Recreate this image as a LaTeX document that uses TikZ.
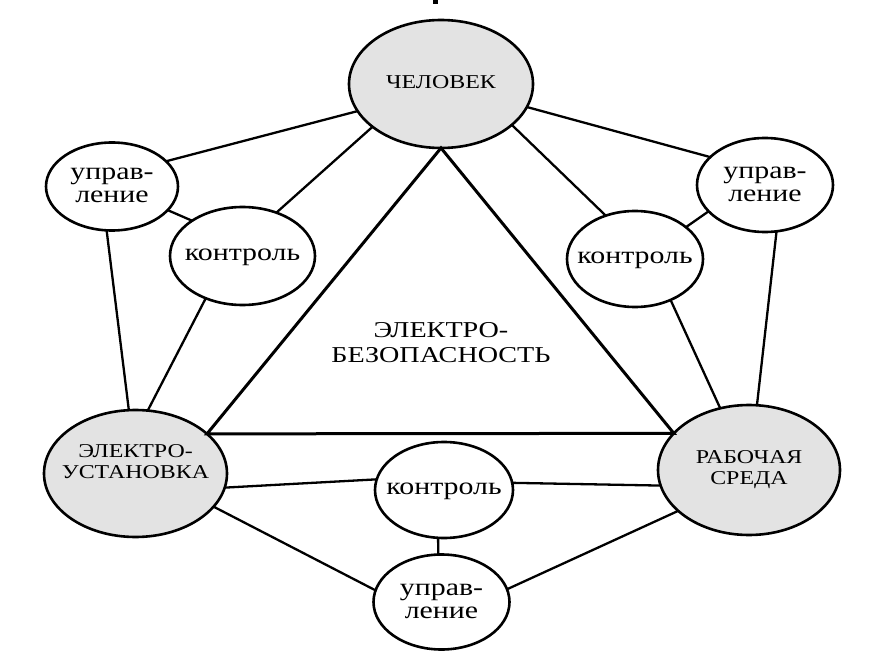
\documentclass[tikz,border=0pt]{standalone}
\usepackage{fontspec}
\setmainfont{Liberation Serif}
\usepackage{graphicx}
\usetikzlibrary{shapes.geometric}
\definecolor{fillg}{RGB}{227,227,227}
\newcommand\capT[1]{\makebox[0pt]{\scalebox{1.22}[1]{\fontsize{19.6}{21}\selectfont\begin{tabular}{@{}c@{}}#1\end{tabular}}}}
\newcommand\lowT[1]{\makebox[0pt]{\scalebox{1.22}[1]{\fontsize{24.5}{23}\selectfont\begin{tabular}{@{}c@{}}#1\end{tabular}}}}
\newcommand\midT[1]{\makebox[0pt]{\scalebox{1.24}[1]{\fontsize{22.7}{25}\selectfont\begin{tabular}{@{}c@{}}#1\end{tabular}}}}
\begin{document}
\begin{tikzpicture}[x=1pt,y=-1pt,
  ell/.style={ellipse,draw,line width=2.6pt,inner sep=0pt,outer sep=0pt},
  bigE/.style={ell,fill=fillg},
  smallE/.style={ell,fill=white},
  conn/.style={line width=2.3pt},
  tri/.style={line width=3pt,line join=miter}]
\useasboundingbox (0,0) rectangle (873,655);
\fill[white] (0,0) rectangle (873,655);
\fill[black] (433,0) rectangle (438,4);
% main nodes
\node[bigE,minimum width=184pt,minimum height=128pt] (chel) at (441,84) {\capT{ЧЕЛОВЕК}};
\node[bigE,minimum width=183pt,minimum height=127pt] (el) at (135.5,473.5) {};
\node[name=elT] at ([yshift=9.5pt]el.center) {\capT{ЭЛЕКТРО-\\УСТАНОВКА}};
\node[bigE,minimum width=182pt,minimum height=130pt] (rab) at (749,470) {\capT{РАБОЧАЯ\\СРЕДА}};
% small nodes
\node[smallE,minimum width=132pt,minimum height=88pt] (lu) at (112,186.5) {\lowT{управ-\\ление}};
\node[smallE,minimum width=145pt,minimum height=98pt] (lk) at (242.5,256) {\lowT{контроль}};
\node[smallE,minimum width=136pt,minimum height=96pt] (rk) at (635,259) {\lowT{контроль}};
\node[smallE,minimum width=136pt,minimum height=94pt] (ru) at (765,185) {\lowT{управ-\\ление}};
\node[smallE,minimum width=138pt,minimum height=96pt] (bk) at (444,490) {\lowT{контроль}};
\node[smallE,minimum width=136pt,minimum height=95pt] (bu) at (441.5,602) {\lowT{управ-\\ление}};
% triangle
\draw[tri] (chel.south) -- (el.29.5) -- (rab.154) -- cycle;
\node[name=mid] at (441,345) {\midT{ЭЛЕКТРО-\\БЕЗОПАСНОСТЬ}};
% connectors
\draw[conn] (chel.198.4) -- (lu.25.8);
\draw[conn] (chel.212.3) -- (lk.52.3);
\draw[conn] (lu.337.6) -- (lk.145.5);
\draw[conn] (lu.263.4) -- (el.96.7);
\draw[conn] (lk.229.6) -- (el.79.7);
\draw[conn] (el.351.2) -- (bk.171.8);
\draw[conn] (bk.6.6) -- (rab.190.6);
\draw[conn] (el.337.7) -- (bu.170);
\draw[conn] (bu.11.9) -- (rab.210.3);
\draw[conn] (bk.263) -- (bu.94.3);
\draw[conn] (chel.345.3) -- (ru.153.8);
\draw[conn] (chel.330) -- (rk.124.8);
\draw[conn] (ru.205.8) -- (rk.32.6);
\draw[conn] (ru.284.3) -- (rab.83);
\draw[conn] (rk.311.9) -- (rab.115.5);
\end{tikzpicture}
\end{document}
